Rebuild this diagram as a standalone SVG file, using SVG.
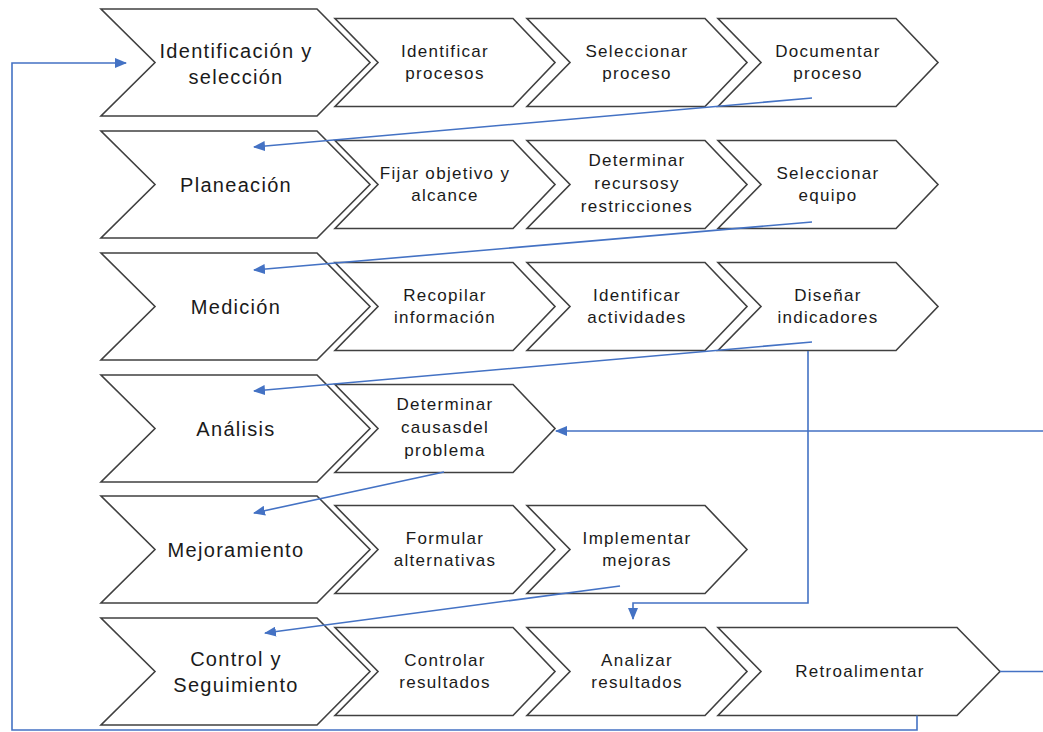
<svg xmlns="http://www.w3.org/2000/svg" width="1043" height="732" viewBox="0 0 1043 732">
<defs>
<marker id="ah" markerUnits="userSpaceOnUse" markerWidth="12" markerHeight="10" refX="11" refY="5" orient="auto">
<path d="M0,0 L12,5 L0,10 Z" fill="#4472C4"/>
</marker>
</defs>
<style>
.big{fill:#fff;stroke:#404040;stroke-width:1.6;stroke-linejoin:miter}
.sm{fill:#fff;stroke:#404040;stroke-width:1.6;stroke-linejoin:miter}
.bt{font-family:"Liberation Sans",Arial,sans-serif;font-size:20px;letter-spacing:1.3px;fill:#1a1a1a;text-anchor:middle}
.st{font-family:"Liberation Sans",Arial,sans-serif;font-size:17px;letter-spacing:1.3px;fill:#1a1a1a;text-anchor:middle}
.cn{fill:none;stroke:#4472C4;stroke-width:1.6}
</style>
<rect width="1043" height="732" fill="#fff"/>

<g id="n-identificacion"><path class="big" d="M101,9 H317 L370,62.5 L317,116 H101 L155,62.5 Z"/><text class="bt" x="236" y="58">Identificación y</text><text class="bt" x="236" y="84">selección</text></g>
<g id="n-identificar-procesos"><path class="sm" d="M335,18.5 H513 L555,62.5 L513,106.5 H335 L378,62.5 Z"/><text class="st" x="445" y="56.5">Identificar</text><text class="st" x="445" y="78.5">procesos</text></g>
<g id="n-seleccionar-proceso"><path class="sm" d="M527,18.5 H705 L747,62.5 L705,106.5 H527 L570,62.5 Z"/><text class="st" x="637" y="56.5">Seleccionar</text><text class="st" x="637" y="78.5">proceso</text></g>
<g id="n-documentar-proceso"><path class="sm" d="M718,18.5 H896 L938,62.5 L896,106.5 H718 L761,62.5 Z"/><text class="st" x="828" y="56.5">Documentar</text><text class="st" x="828" y="78.5">proceso</text></g>

<g id="n-planeacion"><path class="big" d="M101,131 H317 L370,184.5 L317,238 H101 L155,184.5 Z"/><text class="bt" x="236" y="191.5">Planeación</text></g>
<g id="n-fijar-objetivo"><path class="sm" d="M335,140.5 H513 L555,184.5 L513,228.5 H335 L378,184.5 Z"/><text class="st" x="445" y="178.5">Fijar objetivo y</text><text class="st" x="445" y="200.5">alcance</text></g>
<g id="n-determinar-recursos"><path class="sm" d="M527,140.5 H705 L747,184.5 L705,228.5 H527 L570,184.5 Z"/><text class="st" x="637" y="165.5">Determinar</text><text class="st" x="637" y="189">recursosy</text><text class="st" x="637" y="212">restricciones</text></g>
<g id="n-seleccionar-equipo"><path class="sm" d="M718,140.5 H896 L938,184.5 L896,228.5 H718 L761,184.5 Z"/><text class="st" x="828" y="178.5">Seleccionar</text><text class="st" x="828" y="200.5">equipo</text></g>

<g id="n-medicion"><path class="big" d="M101,253 H317 L370,306.5 L317,360 H101 L155,306.5 Z"/><text class="bt" x="236" y="313.5">Medición</text></g>
<g id="n-recopilar"><path class="sm" d="M335,262.5 H513 L555,306.5 L513,350.5 H335 L378,306.5 Z"/><text class="st" x="445" y="300.5">Recopilar</text><text class="st" x="445" y="322.5">información</text></g>
<g id="n-identificar-actividades"><path class="sm" d="M527,262.5 H705 L747,306.5 L705,350.5 H527 L570,306.5 Z"/><text class="st" x="637" y="300.5">Identificar</text><text class="st" x="637" y="322.5">actividades</text></g>
<g id="n-disenar"><path class="sm" d="M718,262.5 H896 L938,306.5 L896,350.5 H718 L761,306.5 Z"/><text class="st" x="828" y="300.5">Diseñar</text><text class="st" x="828" y="322.5">indicadores</text></g>

<g id="n-analisis"><path class="big" d="M101,375 H317 L370,428.5 L317,482 H101 L155,428.5 Z"/><text class="bt" x="236" y="435.5">Análisis</text></g>
<g id="n-determinar-causas"><path class="sm" d="M335,384.5 H513 L555,428.5 L513,472.5 H335 L378,428.5 Z"/><text class="st" x="445" y="409.5">Determinar</text><text class="st" x="445" y="433">causasdel</text><text class="st" x="445" y="456">problema</text></g>

<g id="n-mejoramiento"><path class="big" d="M101,496 H317 L370,549.5 L317,603 H101 L155,549.5 Z"/><text class="bt" x="236" y="556.5">Mejoramiento</text></g>
<g id="n-formular"><path class="sm" d="M335,505.5 H513 L555,549.5 L513,593.5 H335 L378,549.5 Z"/><text class="st" x="445" y="543.5">Formular</text><text class="st" x="445" y="565.5">alternativas</text></g>
<g id="n-implementar"><path class="sm" d="M527,505.5 H705 L747,549.5 L705,593.5 H527 L570,549.5 Z"/><text class="st" x="637" y="543.5">Implementar</text><text class="st" x="637" y="565.5">mejoras</text></g>

<g id="n-control"><path class="big" d="M101,618 H317 L370,671.5 L317,725 H101 L155,671.5 Z"/><text class="bt" x="236" y="666">Control y</text><text class="bt" x="236" y="692">Seguimiento</text></g>
<g id="n-controlar"><path class="sm" d="M335,627.5 H513 L555,671.5 L513,715.5 H335 L378,671.5 Z"/><text class="st" x="445" y="665.5">Controlar</text><text class="st" x="445" y="687.5">resultados</text></g>
<g id="n-analizar"><path class="sm" d="M527,627.5 H705 L747,671.5 L705,715.5 H527 L570,671.5 Z"/><text class="st" x="637" y="665.5">Analizar</text><text class="st" x="637" y="687.5">resultados</text></g>
<g id="n-retroalimentar"><path class="sm" d="M718,627.5 H957 L1000,671.5 L957,715.5 H718 L761,671.5 Z"/><text class="st" x="860" y="677">Retroalimentar</text></g>

<g id="connectors">
<path class="cn" d="M812,98 L254,147" marker-end="url(#ah)"/>
<path class="cn" d="M812,222 L254,270" marker-end="url(#ah)"/>
<path class="cn" d="M812,342 L254,391" marker-end="url(#ah)"/>
<path class="cn" d="M444,472 L254,513" marker-end="url(#ah)"/>
<path class="cn" d="M620,586 L265,633" marker-end="url(#ah)"/>
<path class="cn" d="M808,351 V603 H633 V619" marker-end="url(#ah)"/>
<path class="cn" d="M1000,671.5 H1050 V431 H556" marker-end="url(#ah)"/>
<path class="cn" d="M917,715.5 V730 H12 V63 H126" marker-end="url(#ah)"/>
</g>
</svg>
